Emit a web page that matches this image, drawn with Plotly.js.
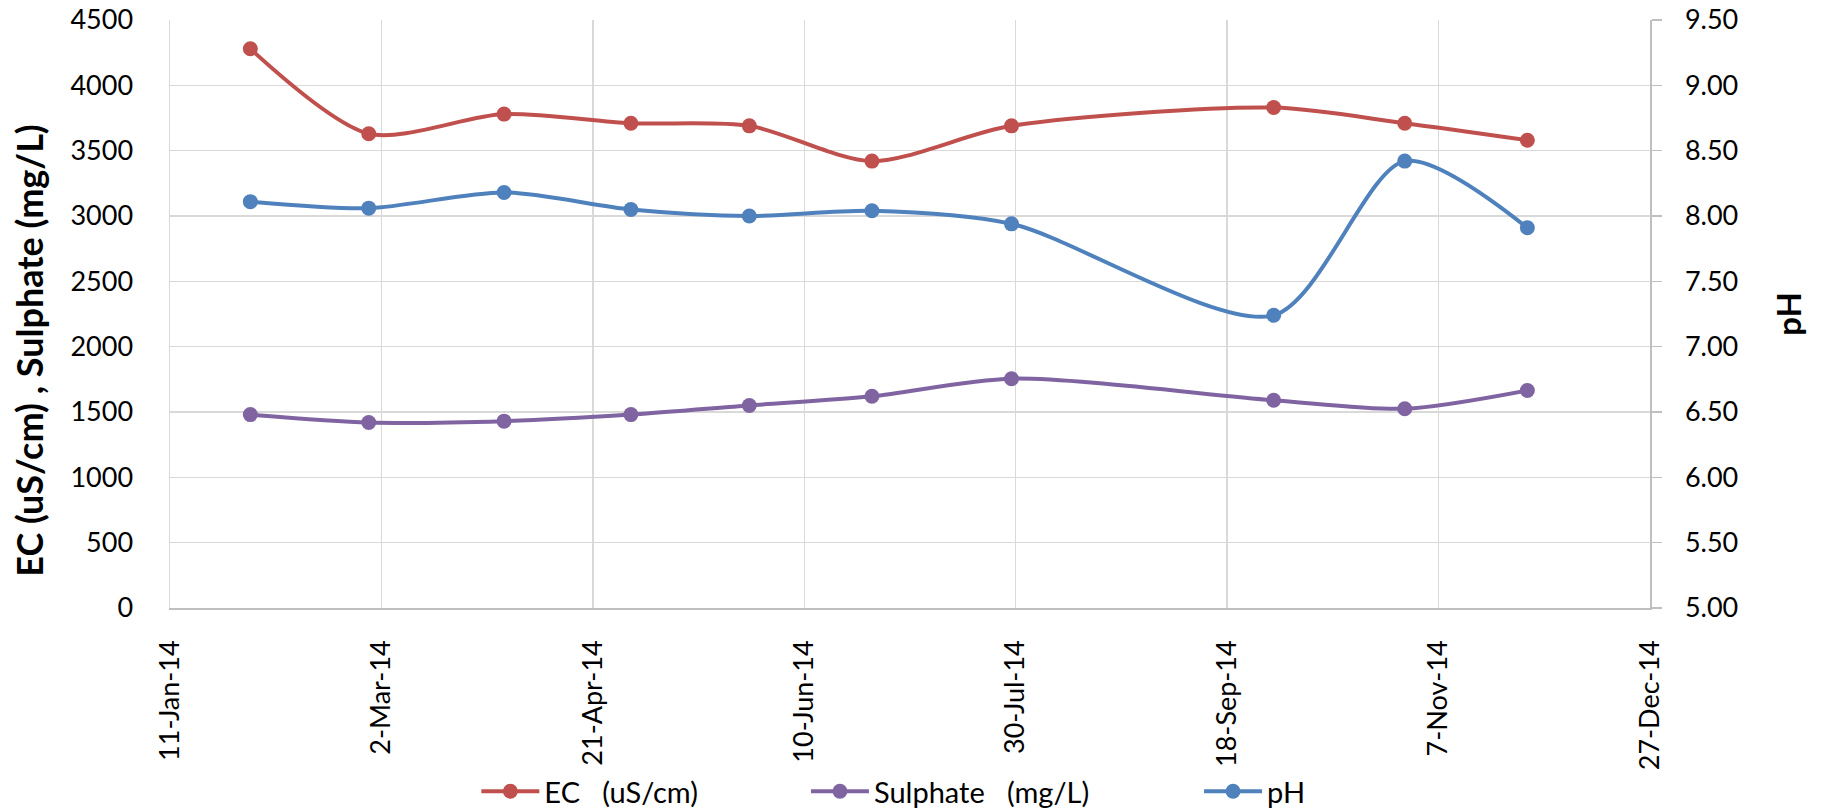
<!DOCTYPE html>
<html>
<head>
<meta charset="utf-8">
<script src="https://cdn.plot.ly/plotly-3.0.1.min.js"></script>
<style>html,body{margin:0;padding:0;background:#fff;}#chart{width:1825px;height:812px;}</style>
</head>
<body>
<div id="chart"></div>
<script>
// Sampling dates
var dates = ['2014-01-30','2014-02-27','2014-03-31','2014-04-30','2014-05-28',
             '2014-06-26','2014-07-29','2014-09-29','2014-10-30','2014-11-28'];
// EC (uS/cm)
var ecValues = [4280, 3630, 3780, 3710, 3690, 3420, 3690, 3830, 3710, 3580];
// Sulphate (mg/L)
var sulphateValues = [1480, 1420, 1430, 1480, 1550, 1620, 1755, 1590, 1525, 1665];
// pH
var phValues = [8.11, 8.06, 8.18, 8.05, 8.00, 8.04, 7.94, 7.24, 8.42, 7.91];

var seriesNames = ['EC&nbsp;&nbsp;&nbsp;(uS/cm)', 'Sulphate&nbsp;&nbsp;&nbsp;(mg/L)', 'pH'];
var leftTitle = 'EC (uS/cm) , Sulphate (mg/L)';
var rightTitle = 'pH';

var FONT = 'Lato, "Open Sans", sans-serif';

function mk(name, y, color, axis, legendId) {
  return {
    x: dates, y: y, name: name, type: 'scatter', mode: 'lines+markers',
    yaxis: axis, legend: legendId,
    line: {color: color, width: 4, shape: 'spline', smoothing: 0.8},
    marker: {color: color, size: 15}
  };
}

var data = [
  mk(seriesNames[0], ecValues, '#C0504D', 'y', 'legend'),
  mk(seriesNames[1], sulphateValues, '#8064A2', 'y', 'legend2'),
  mk(seriesNames[2], phValues, '#4F81BD', 'y2', 'legend3')
];

function leg(x) {
  return {
    orientation: 'h', x: x, xanchor: 'left', y: -0.312, yanchor: 'middle',
    font: {family: FONT, size: 29, color: '#000'},
    bgcolor: 'rgba(0,0,0,0)', borderwidth: 0, itemwidth: 58
  };
}

var layout = {
  width: 1825, height: 812,
  margin: {l: 170, r: 175, t: 20, b: 204, autoexpand: false},
  paper_bgcolor: '#fff', plot_bgcolor: '#fff',
  font: {family: FONT, size: 27, color: '#000'},
  showlegend: true,
  legend: leg(0.2070),
  legend2: leg(0.4297),
  legend3: leg(0.6953),
  annotations: [{
    text: leftTitle, xref: 'paper', yref: 'paper',
    x: -0.0955, y: 0.437, xanchor: 'center', yanchor: 'middle',
    textangle: -90, showarrow: false,
    font: {family: FONT, size: 36, color: '#000', weight: 'bold'}
  }],
  xaxis: {
    type: 'date',
    range: ['2014-01-11', '2014-12-27'],
    tick0: '2014-01-11', dtick: 50 * 86400000,
    tickformat: '%-d-%b-%y', tickangle: -90,
    showgrid: true, gridcolor: '#d9d9d9', gridwidth: 1.5,
    showline: true, linecolor: '#bfbfbf', linewidth: 1.5,
    ticks: '', ticklabelstandoff: 20,
    zeroline: false, automargin: false,
    tickfont: {family: FONT, size: 27, color: '#000'}
  },
  yaxis: {
    range: [0, 4500], dtick: 500, tick0: 0,
    showgrid: true, gridcolor: '#d9d9d9', gridwidth: 1.5,
    showline: true, linecolor: '#d9d9d9', linewidth: 1.5,
    ticks: '', ticklabelstandoff: 30, zeroline: false, automargin: false,
    tickfont: {family: FONT, size: 27, color: '#000'}
  },
  yaxis2: {
    range: [5, 9.5], dtick: 0.5, tick0: 5, tickformat: '.2f',
    overlaying: 'y', side: 'right',
    showgrid: false, zeroline: false,
    showline: true, linecolor: '#bfbfbf', linewidth: 1.5,
    ticks: 'outside', ticklen: 10, tickcolor: '#bfbfbf', tickwidth: 1.5,
    ticklabelstandoff: 18, automargin: false,
    tickfont: {family: FONT, size: 27, color: '#000'},
    title: {text: rightTitle, font: {family: FONT, size: 33, color: '#000', weight: 'bold'}, standoff: 40}
  }
};

Plotly.newPlot('chart', data, layout, {staticPlot: true, displayModeBar: false});
</script>
</body>
</html>
